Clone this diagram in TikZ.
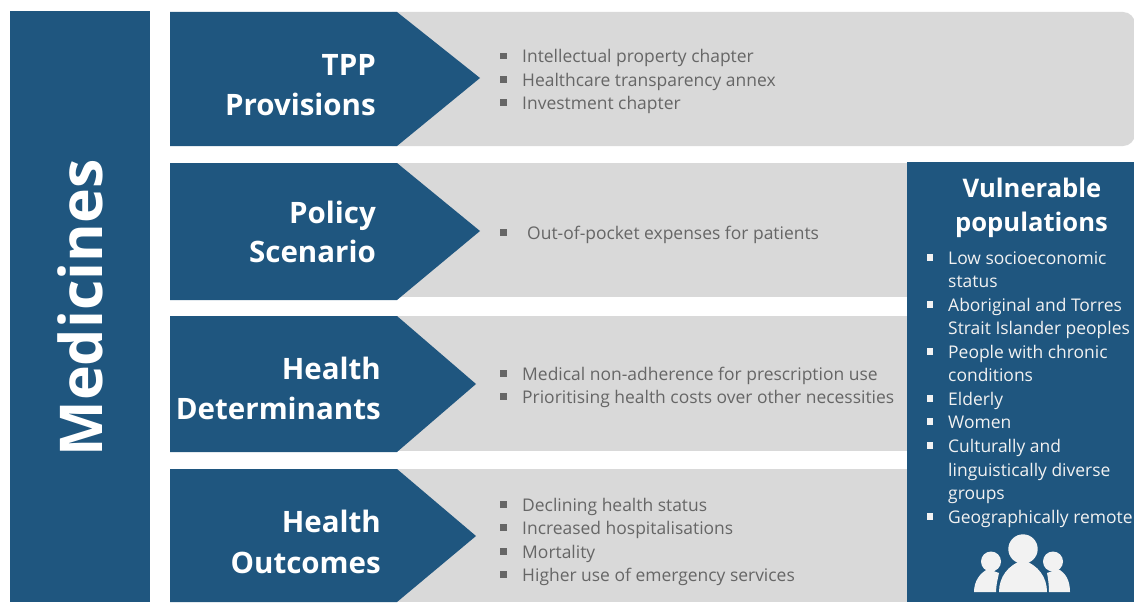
\documentclass[tikz,border=0pt]{standalone}
\usepackage{fontspec}
\setmainfont{Open Sans}
\definecolor{darkBlue}{HTML}{1F567F}
\definecolor{paleGrey}{HTML}{D9D9D9}
\definecolor{textGrey}{HTML}{666666}
\definecolor{paleWhite}{HTML}{F2F2F2}
\tikzset{
    heading/.style={anchor=base east,align=right,text=white,font=\fontsize{29.5}{38}\selectfont\bfseries,inner sep=0pt},
    sideHeading/.style={anchor=base,align=center,text=white,font=\fontsize{25.6}{34}\selectfont\bfseries,inner sep=0pt},
    entry/.style={anchor=base west,text=textGrey,font=\fontsize{17.45}{20}\selectfont,inner sep=0pt},
    sideEntry/.style={anchor=base west,text=paleWhite,font=\fontsize{17.45}{20}\selectfont,inner sep=0pt},
}
\begin{document}
\begin{tikzpicture}[x=1pt,y=-1pt]
    \useasboundingbox (0,0) rectangle (1134,602);
    % side bar
    \fill[darkBlue] (10,11) rectangle (150,602);
    \node[rotate=90,text=white,font=\fontsize{59}{70}\selectfont\bfseries] (medicines) at (80,308) {Medicines};
    % grey bands
    \fill[paleGrey,rounded corners=12pt] (380,12) -- (1135,12) -- (1135,146) -- (380,146) -- cycle;
    \fill[paleGrey] (397,163) rectangle (907,297);
    \fill[paleGrey] (397,316) rectangle (907,451);
    \fill[paleGrey] (397,469) rectangle (907,602);
    % arrows
    \fill[darkBlue] (170,12) -- (397,12) -- (480,78) -- (397,146) -- (170,146) -- cycle;
    \fill[darkBlue] (170,163) -- (397,163) -- (480,231) -- (397,300) -- (170,300) -- cycle;
    \fill[darkBlue] (170,316) -- (397,316) -- (476,384) -- (397,452) -- (170,452) -- cycle;
    \fill[darkBlue] (170,469) -- (397,469) -- (476,536) -- (397,602) -- (170,602) -- cycle;
    \node[heading] (tpp) at (376,75) {TPP};
    \node[heading] (provisions) at (376,115) {Provisions};
    \node[heading] (policy) at (376,223) {Policy};
    \node[heading] (scenario) at (376,262) {Scenario};
    \node[heading] (health1) at (381,379) {Health};
    \node[heading] (determinants) at (381,419) {Determinants};
    \node[heading] (health2) at (381,532) {Health};
    \node[heading] (outcomes) at (381,573) {Outcomes};
    % lists
    \foreach \n/\y/\txt in {a/63/Intellectual property chapter,b/86/Healthcare transparency annex,c/109/Investment chapter,
        e/380/Medical non-adherence for prescription use,f/403/Prioritising health costs over other necessities,
        g/511/Declining health status,h/534/Increased hospitalisations,i/558/Mortality,j/581/Higher use of emergency services}{
        \fill[textGrey] (500,\y-10) rectangle (506.5,\y-3.5);
        \node[entry] (item\n) at (522,\y) {\txt};
    }
    \fill[textGrey] (500,229) rectangle (506.5,235.5);
    \node[entry] (itemd) at (527,239) {Out-of-pocket expenses for patients};
    % vulnerable populations
    \fill[darkBlue] (907,162) rectangle (1134,602);
    \node[sideHeading] (vulnerable) at (1032,197) {Vulnerable};
    \node[sideHeading] (populations) at (1031.5,231) {populations};
    \foreach \n/\y/\txt in {a/264/Low socioeconomic,b/311/Aboriginal and Torres,c/358/People with chronic,d/405/Elderly,e/428/Women,f/452/Culturally and,g/523/Geographically remote}{
        \fill[paleWhite] (926.5,\y-10) rectangle (933,\y-3.5);
        \node[sideEntry] (side\n) at (948,\y) {\txt};
    }
    \foreach \n/\y/\txt in {h/287/status,i/334/Strait Islander peoples,j/381/conditions,k/476/linguistically diverse,l/499/groups}{
        \node[sideEntry] (side\n) at (948,\y) {\txt};
    }
    % people
    \fill[paleWhite] (1023,549) circle (14.7);
    \fill[paleWhite] (991,561.5) circle (10);
    \fill[paleWhite] (1053,561.5) circle (10);
    \fill[paleWhite] (999,592) .. controls (999,577) and (1008,565) .. (1023,560) .. controls (1038,565) and (1047,577) .. (1047,592) -- cycle;
    \fill[paleWhite] (974,592) .. controls (974,581) and (980,573) .. (988,569) -- (999,573) .. controls (998,578) and (996,585) .. (996,592) -- cycle;
    \fill[paleWhite] (1070,592) .. controls (1070,581) and (1066,573) .. (1058,569) -- (1047,573) .. controls (1048,578) and (1049,585) .. (1049,592) -- cycle;
\end{tikzpicture}
\end{document}
